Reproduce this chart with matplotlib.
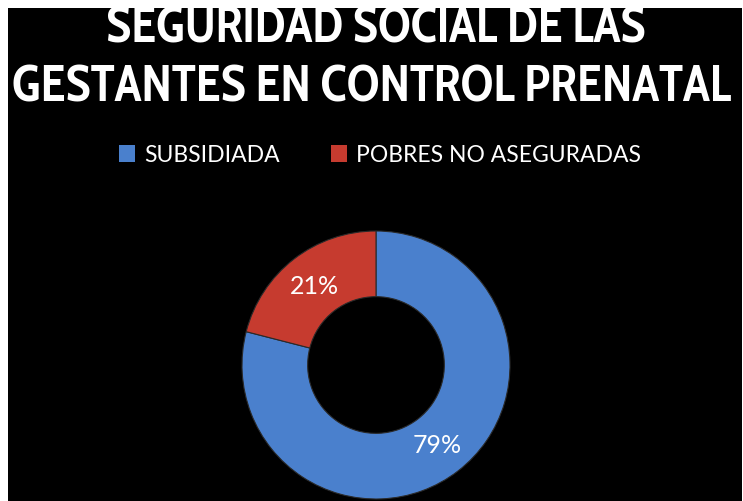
import matplotlib
matplotlib.use("Agg")
import matplotlib.pyplot as plt
from matplotlib.patches import Rectangle

categories = ["SUBSIDIADA", "POBRES NO ASEGURADAS"]
values = [79, 21]
colors = ["#4A80CD", "#C63B2F"]
title_lines = ["SEGURIDAD SOCIAL DE LAS", "GESTANTES EN CONTROL PRENATAL"]

W, H = 743, 502
fig = plt.figure(figsize=(W / 100, H / 100), dpi=100, facecolor="white")

# black panel with a thin white margin at the top and left
fig.patches.append(Rectangle((8 / W, 0), (742 - 8) / W, (H - 9) / H,
                             transform=fig.transFigure, facecolor="black",
                             edgecolor="none", zorder=-5))

title_font = "Cabin Condensed"
fig.text(376 / W, 1 - 30 / H, title_lines[0], ha="center", va="center",
         color="white", fontsize=36, fontweight="bold", family=title_font)
fig.text(372 / W, 1 - 89 / H, title_lines[1], ha="center", va="center",
         color="white", fontsize=36, fontweight="bold", family=title_font)

cx, cy, r = 376, 366, 134
ax = fig.add_axes([(cx - r) / W, (H - cy - r) / H, 2 * r / W, 2 * r / H])

wedges, texts, autotexts = ax.pie(
    values, colors=colors, startangle=90, counterclock=False, radius=1,
    autopct=lambda p: f"{p:.0f}%", pctdistance=0.75,
    wedgeprops=dict(width=0.49, edgecolor="#2a2a2a", linewidth=0.8),
    textprops=dict(color="white", fontsize=18, family="Lato"))
ax.set_xlim(-1, 1)
ax.set_ylim(-1, 1)
ax.set_aspect("equal")
ax.axis("off")

# legend row
handles = [Rectangle((0, 0), 1, 1, facecolor=c, edgecolor="none") for c in colors]
fig.legend(handles, categories, loc="center", bbox_to_anchor=(380 / W, 1 - 156 / H),
           ncol=2, frameon=False, labelcolor="white",
           prop=dict(family="Lato", size=16.5), handlelength=0.7, handleheight=0.7,
           handletextpad=0.4, columnspacing=2.2)

fig.savefig("out.png", dpi=100, facecolor="white")
